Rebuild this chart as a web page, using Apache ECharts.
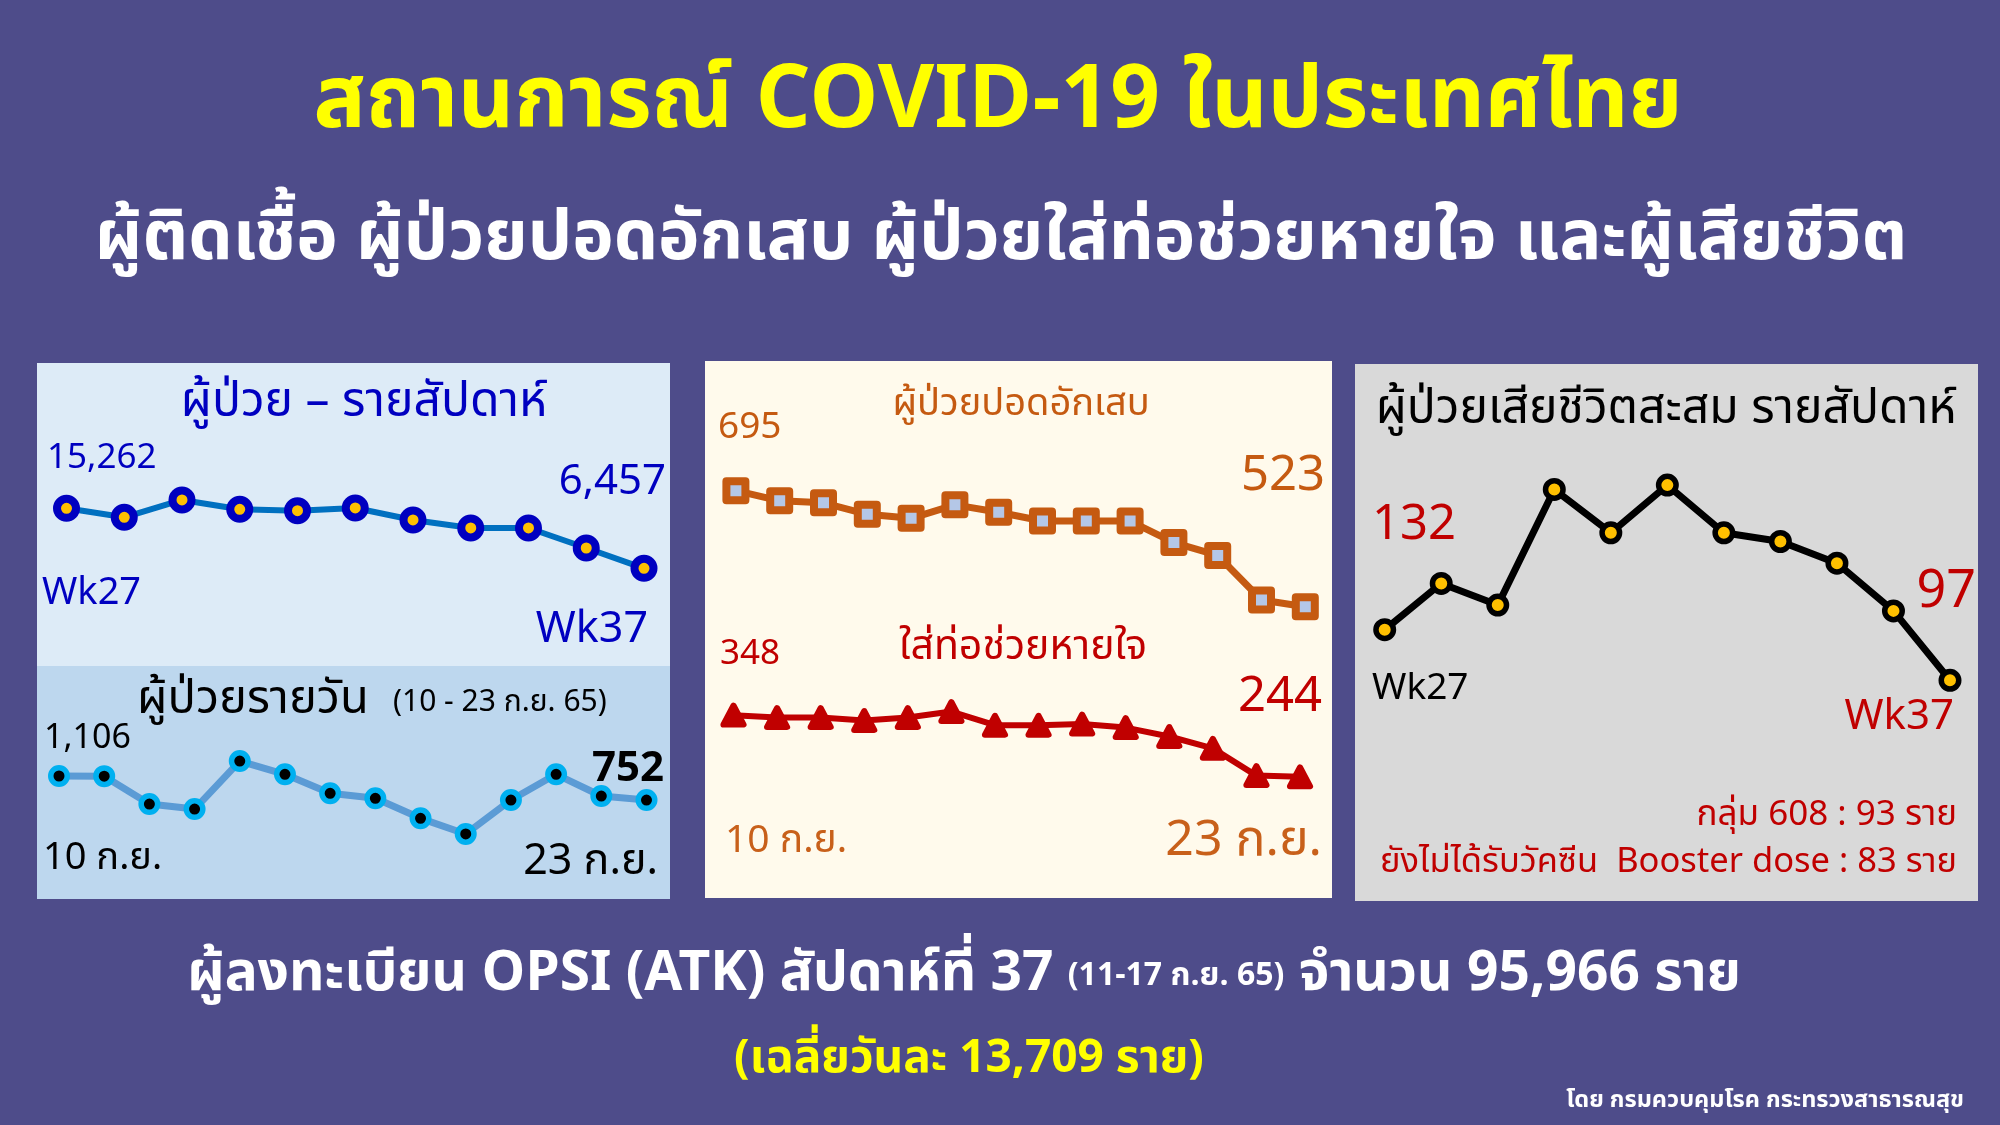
<!DOCTYPE html>
<html>
<head>
<meta charset="utf-8">
<script src="https://cdn.jsdelivr.net/npm/echarts@6/dist/echarts.min.js"></script>
<style>
html,body{margin:0;padding:0;background:#4E4C8A;}
#chart{width:2000px;height:1125px;}
</style>
</head>
<body>
<div id="chart"></div>
<script>
// ---- Data ----
const weekCategories = ['Wk27','Wk28','Wk29','Wk30','Wk31','Wk32','Wk33','Wk34','Wk35','Wk36','Wk37'];
const weeklyPatients = [15262, 13942, 16481, 15116, 14910, 15307, 13546, 12372, 12372, 9436, 6457];
const dayCategories = ['10 ก.ย.','11 ก.ย.','12 ก.ย.','13 ก.ย.','14 ก.ย.','15 ก.ย.','16 ก.ย.','17 ก.ย.','18 ก.ย.','19 ก.ย.','20 ก.ย.','21 ก.ย.','22 ก.ย.','23 ก.ย.'];
const dailyPatients = [1106, 1104, 693, 619, 1327, 1131, 851, 777, 482, 251, 752, 1131, 811, 752];
const pneumonia = [695, 680, 677, 660, 654, 674, 663, 650, 650, 650, 618, 599, 533, 523];
const ventilator = [348, 344, 344, 339, 344, 354, 331, 331, 333, 327, 312, 292, 246, 244];
const weeklyDeaths = [132, 164, 149, 229, 199, 232, 199, 193, 178, 145, 97];

const FONT = '"Noto Sans Thai","Noto Sans","DejaVu Sans",sans-serif';
const fmt = v => v.toLocaleString('en-US');
const DY = 6; // font metric offset

const chart = echarts.init(document.getElementById('chart'), null, {renderer:'canvas'});

function txt(x, y, text, size, color, align, weight) {
  return {
    type:'text', x:x, y:y + DY, z:100,
    style:{text:text, fontSize:size, fill:color, align:align||'left', verticalAlign:'middle',
      fontFamily:FONT, fontWeight:weight||'normal'}
  };
}

const graphics = [
  {type:'rect', shape:{x:0,y:0,width:2000,height:1125}, style:{fill:'#4E4C8A'}, z:-10},
  {type:'rect', shape:{x:37,y:363,width:633,height:303}, style:{fill:'#DDEBF7'}, z:-5},
  {type:'rect', shape:{x:37,y:666,width:633,height:233}, style:{fill:'#BDD7EE'}, z:-5},
  {type:'rect', shape:{x:705,y:361,width:627,height:537}, style:{fill:'#FFFAEC'}, z:-5},
  {type:'rect', shape:{x:1355,y:364,width:623,height:537}, style:{fill:'#D9D9D9'}, z:-5},

  txt(998, 103, 'สถานการณ์ COVID-19 ในประเทศไทย', 87, '#FFFF00', 'center', 'bold'),
  txt(1001, 239, 'ผู้ติดเชื้อ ผู้ป่วยปอดอักเสบ ผู้ป่วยใส่ท่อช่วยหายใจ และผู้เสียชีวิต', 70, '#FFFFFF', 'center', 'bold'),

  // panel 1
  txt(364, 400, 'ผู้ป่วย – รายสัปดาห์', 48, '#0000C0', 'center'),
  txt(47, 455, fmt(weeklyPatients[0]), 35, '#0000C0', 'left'),
  txt(666, 480, fmt(weeklyPatients[weeklyPatients.length-1]), 42, '#0000C0', 'right'),
  txt(42, 590, weekCategories[0], 38, '#0000C0', 'left'),
  txt(648, 627, weekCategories[weekCategories.length-1], 43, '#0000C0', 'right'),

  txt(137, 697, 'ผู้ป่วยรายวัน', 47, '#000000', 'left'),
  txt(393, 699, '(10 - 23 ก.ย. 65)', 30, '#000000', 'left'),
  txt(44, 735, fmt(dailyPatients[0]), 34, '#000000', 'left'),
  txt(664, 767, fmt(dailyPatients[dailyPatients.length-1]), 42, '#000000', 'right', 'bold'),
  txt(43, 855, dayCategories[0], 38, '#000000', 'left'),
  txt(658, 859, dayCategories[dayCategories.length-1], 43, '#000000', 'right'),

  // panel 2
  txt(1021, 401, 'ผู้ป่วยปอดอักเสบ', 38, '#C55A11', 'center'),
  txt(718, 425, fmt(pneumonia[0]), 37, '#C55A11', 'left'),
  txt(1325, 474, fmt(pneumonia[pneumonia.length-1]), 49, '#C55A11', 'right'),
  txt(1023, 645, 'ใส่ท่อช่วยหายใจ', 41, '#C00000', 'center'),
  txt(720, 651, fmt(ventilator[0]), 35, '#C00000', 'left'),
  txt(1322, 695, fmt(ventilator[ventilator.length-1]), 49, '#C00000', 'right'),
  txt(725, 838, dayCategories[0], 39, '#C8601A', 'left'),
  txt(1322, 839, dayCategories[dayCategories.length-1], 50, '#C8601A', 'right'),

  // panel 3
  txt(1666, 407, 'ผู้ป่วยเสียชีวิตสะสม รายสัปดาห์', 48, '#000000', 'center'),
  txt(1372, 523, fmt(weeklyDeaths[0]), 49, '#C00000', 'left'),
  txt(1976, 590, fmt(weeklyDeaths[weeklyDeaths.length-1]), 52, '#C00000', 'right'),
  txt(1372, 686, weekCategories[0], 37, '#000000', 'left'),
  txt(1954, 715, weekCategories[weekCategories.length-1], 42, '#C00000', 'right'),
  txt(1957, 812, 'กลุ่ม 608 : 93 ราย', 35, '#C00000', 'right'),
  txt(1957, 859, 'ยังไม่ได้รับวัคซีน  Booster dose : 83 ราย', 34.5, '#C00000', 'right'),

  // bottom
  {type:'text', x:964, y:973 + DY, z:100, style:{
    text:'{a|ผู้ลงทะเบียน OPSI (ATK) สัปดาห์ที่ 37 }{b|(11-17 ก.ย. 65)}{a| จำนวน 95,966 ราย}',
    align:'center', verticalAlign:'middle', fontFamily:FONT,
    rich:{a:{fontSize:55, fill:'#FFFFFF', fontWeight:'bold', fontFamily:FONT}, b:{fontSize:32, fill:'#FFFFFF', fontWeight:'bold', fontFamily:FONT}}
  }},
  txt(969, 1057, '(เฉลี่ยวันละ 13,709 ราย)', 46, '#FFFF00', 'center', 'bold'),
  txt(1964, 1096, 'โดย กรมควบคุมโรค กระทรวงสาธารณสุข', 23.5, '#FFFFFF', 'right', 'bold')
];

function grid(left, right, top, bottom) {
  return {left:left, width:right-left, top:top, height:bottom-top, containLabel:false};
}

const hiddenX = (i, cats) => ({type:'category', gridIndex:i, data:cats, boundaryGap:false, show:false});
const hiddenY = (i, min, max) => ({type:'value', gridIndex:i, min:min, max:max, show:false, splitLine:{show:false}});

const option = {
  animation:false,
  backgroundColor:'#4E4C8A',
  graphic:graphics,
  grid:[
    grid(66.5, 644, 476, 612.3),       // weekly patients
    grid(59, 646.5, 749.3, 851),       // daily patients
    grid(735.9, 1305.3, 419.9, 689.6), // pneumonia
    grid(733.5, 1300, 684.3, 802.9),   // ventilator
    grid(1384.7, 1950, 459.1, 748.2)   // deaths
  ],
  xAxis:[hiddenX(0, weekCategories), hiddenX(1, dayCategories), hiddenX(2, dayCategories), hiddenX(3, dayCategories), hiddenX(4, weekCategories)],
  yAxis:[hiddenY(0, 0, 20000), hiddenY(1, 0, 1500), hiddenY(2, 400, 800), hiddenY(3, 200, 400), hiddenY(4, 50, 250)],
  series:[
    {type:'line', xAxisIndex:0, yAxisIndex:0, data:weeklyPatients, symbol:'circle', symbolSize:19,
      lineStyle:{color:'#0070C0', width:6}, itemStyle:{color:'#FFC000', borderColor:'#0000C0', borderWidth:8}, z:3},
    {type:'line', xAxisIndex:1, yAxisIndex:1, data:dailyPatients, symbol:'circle', symbolSize:16.5,
      lineStyle:{color:'#5B9BD5', width:7}, itemStyle:{color:'#000000', borderColor:'#00B0F0', borderWidth:5.5}, z:3},
    {type:'line', xAxisIndex:2, yAxisIndex:2, data:pneumonia, symbol:'rect', symbolSize:19,
      lineStyle:{color:'#C55A11', width:7}, itemStyle:{color:'#B4C7E7', borderColor:'#C55A11', borderWidth:8, borderJoin:'round'}, z:3},
    {type:'line', xAxisIndex:3, yAxisIndex:3, data:ventilator, symbol:'triangle', symbolSize:[20,19],
      lineStyle:{color:'#C00000', width:6}, itemStyle:{color:'#C00000', borderColor:'#C00000', borderWidth:6, borderJoin:'round'}, z:3},
    {type:'line', xAxisIndex:4, yAxisIndex:4, data:weeklyDeaths, symbol:'circle', symbolSize:17.5,
      lineStyle:{color:'#000000', width:7}, itemStyle:{color:'#FFC000', borderColor:'#000000', borderWidth:5.5}, z:3}
  ]
};
chart.setOption(option);
</script>
</body>
</html>
